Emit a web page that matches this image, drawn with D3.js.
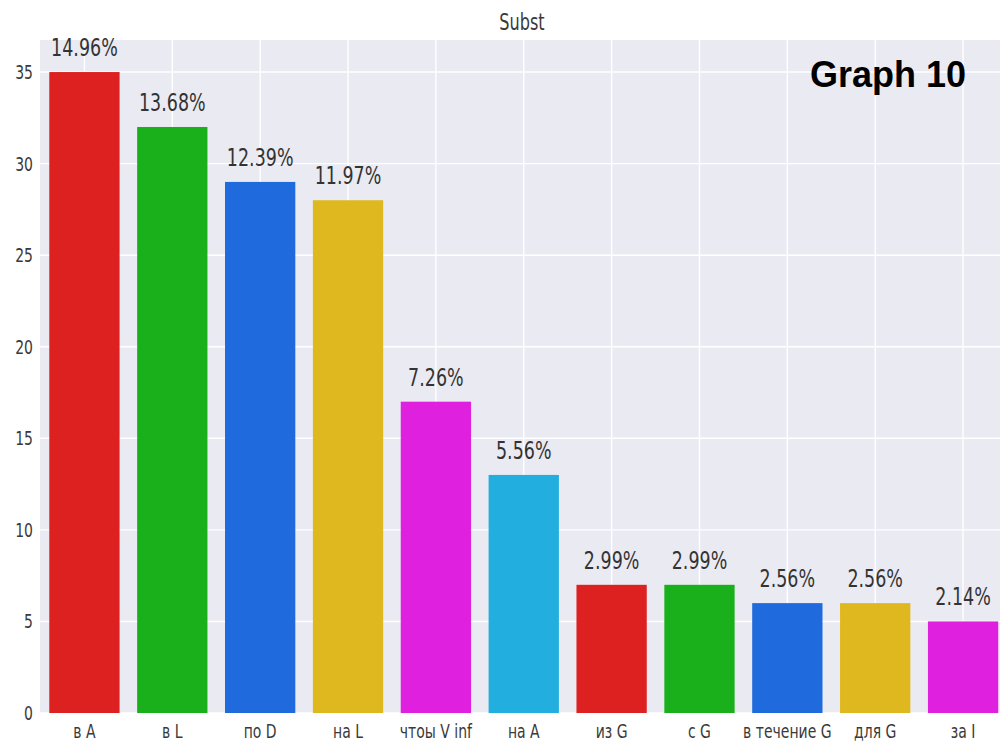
<!DOCTYPE html>
<html><head><meta charset="utf-8">
<script src="https://cdn.jsdelivr.net/npm/d3@7"></script>
<style>body{margin:0;background:#fff}svg{display:block}</style>
</head><body><svg id="c" width="1000" height="745"></svg>
<script>
const categories = ["в A","в L","по D","на L","чтоы V  inf","на A","из G","с G","в течение G","для G","за I"];
const counts = [35,32,29,28,17,13,7,7,6,6,5];
const percents = ["14.96%","13.68%","12.39%","11.97%","7.26%","5.56%","2.99%","2.99%","2.56%","2.56%","2.14%"];
const colors = ["#dd2121","#1ab01c","#1f6bdd","#dfb820","#df21df","#22aede","#dd2121","#1ab01c","#1f6bdd","#dfb820","#df21df"];
const yTicks = [0,5,10,15,20,25,30,35];
const title = "Subst";
const note = "Graph 10";

const svg = d3.select("#c");
const L=40.5, R=1007, T=40, B=713;
const SX = 0.7;
const x = d3.scaleBand().domain(categories).range([L,R]).paddingInner(0.2).paddingOuter(0.1);
const y = d3.scaleLinear().domain([0,36.75]).range([B,T]);

svg.append("rect").attr("x",40).attr("y",T).attr("width",1000-40).attr("height",B-T).attr("fill","#eaeaf2");

// grid
svg.append("g").selectAll("line").data(yTicks).join("line")
  .attr("x1",40).attr("x2",1000).attr("y1",d=>y(d)).attr("y2",d=>y(d))
  .attr("stroke","#fff").attr("stroke-width",1.4);
svg.append("g").selectAll("line").data(categories).join("line")
  .attr("x1",d=>x(d)+x.bandwidth()/2).attr("x2",d=>x(d)+x.bandwidth()/2)
  .attr("y1",T).attr("y2",B).attr("stroke","#fff").attr("stroke-width",1.4);

// bars
svg.append("g").selectAll("rect").data(categories).join("rect")
  .attr("x",d=>x(d)).attr("width",x.bandwidth())
  .attr("y",(d,i)=>y(counts[i])).attr("height",(d,i)=>B-y(counts[i]))
  .attr("fill",(d,i)=>colors[i]);

function sText(g, tx, ty, str, size, anchor, fill, weight, sx){
  return g.append("text").attr("transform",`translate(${tx},${ty}) scale(${sx},1)`)
    .attr("text-anchor",anchor).attr("font-size",size).attr("fill",fill)
    .attr("font-weight",weight||"normal")
    .attr("font-family","DejaVu Sans, sans-serif").text(str);
}

// percent labels
const pl = svg.append("g");
categories.forEach((c,i)=>{
  sText(pl, x(c)+x.bandwidth()/2, y(counts[i])-16, percents[i], 25, "middle", "#333", "normal", SX);
});

// y tick labels
const yl = svg.append("g");
yTicks.forEach(t=>{
  sText(yl, 33, y(t)+7, String(t), 20, "end", "#3a3a3a", "normal", SX);
});

// x tick labels
const xl = svg.append("g");
categories.forEach(c=>{
  sText(xl, x(c)+x.bandwidth()/2, 738, c, 20, "middle", "#3a3a3a", "normal", SX);
});

// title
sText(svg, 522, 30, title, 23, "middle", "#3a3a3a", "normal", SX);

// note
svg.append("text").attr("x",966).attr("y",87).attr("text-anchor","end")
  .attr("font-family","Liberation Sans, Arial, sans-serif").attr("font-weight","bold")
  .attr("font-size",36).attr("fill","#000").text(note);
</script></body></html>
